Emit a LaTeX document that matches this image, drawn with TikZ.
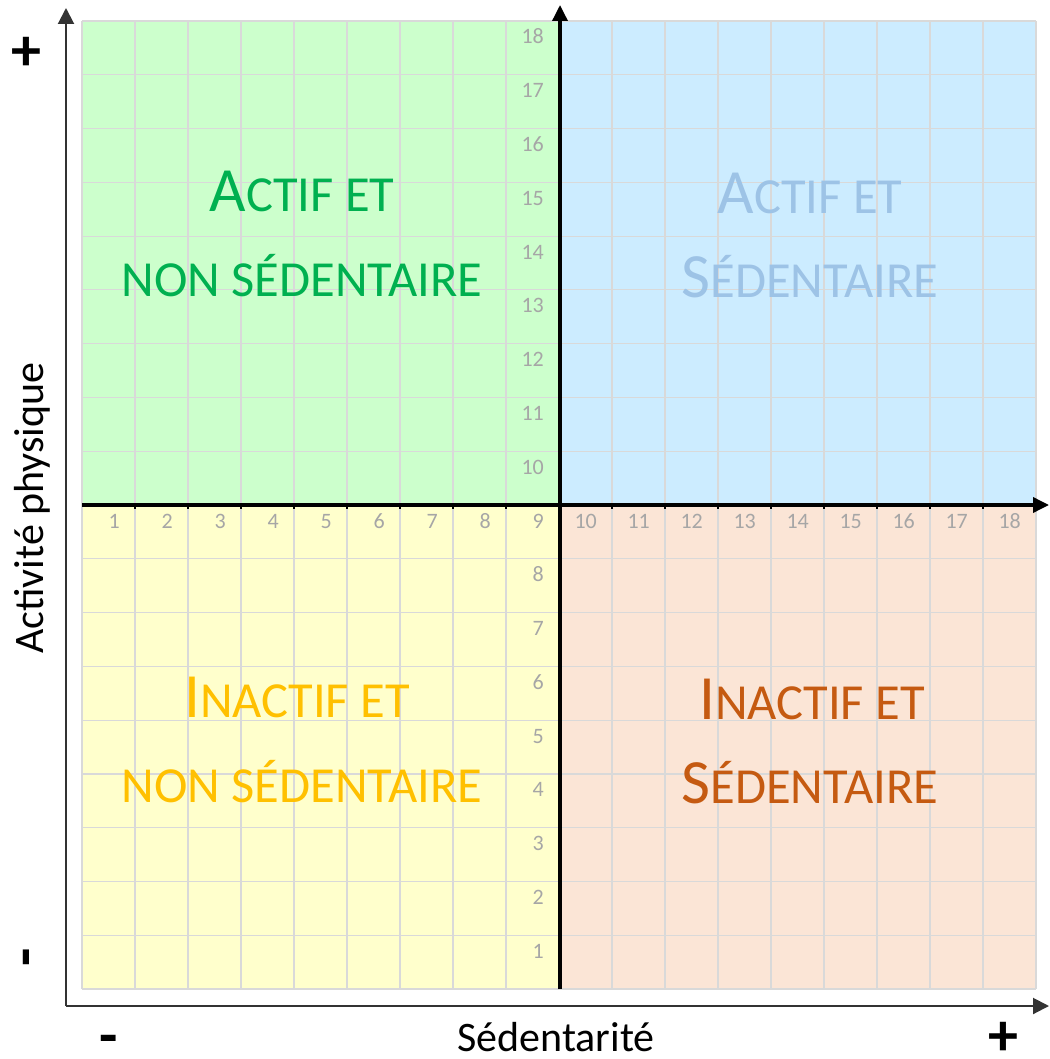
\documentclass[tikz,border=0pt]{standalone}
\usepackage{fontspec}
\setmainfont{Carlito}
\usetikzlibrary{arrows.meta}
\definecolor{qgreen}{HTML}{CCFFCC}
\definecolor{qblue}{HTML}{CCECFF}
\definecolor{qyellow}{HTML}{FFFFCC}
\definecolor{qpeach}{HTML}{FBE5D6}
\definecolor{tgreen}{HTML}{00B050}
\definecolor{tblue}{HTML}{9DC3E6}
\definecolor{tgold}{HTML}{FFC000}
\definecolor{torange}{HTML}{C55A11}
\definecolor{gridgray}{HTML}{D9D9D9}
\definecolor{numgray}{HTML}{A6A6A6}
\newcommand\quadbigsc[2]{{\fontsize{63}{70}\selectfont #1}{\fontsize{50.5}{58}\selectfont #2}}
\newcommand\quadsmallsc[1]{{\fontsize{50.5}{58}\selectfont #1}}
\tikzset{
  gridline/.style={draw=gridgray, line width=1.2pt},
  num/.style={text=numgray, font=\fontsize{22}{26}\selectfont, inner sep=0pt, anchor=base east},
  qlabel/.style={inner sep=0pt, anchor=base},
  outeraxis/.style={draw=black!80, line width=2pt, -{Triangle[length=16pt,width=16pt]}},
  centeraxis/.style={draw=black, line width=3.5pt, -{Triangle[length=16pt,width=15pt]}},
  axislabel/.style={inner sep=0pt, anchor=base, font=\fontsize{42}{50}\selectfont},
  sign/.style={inner sep=0pt, font=\fontsize{60}{70}\selectfont\bfseries},
  tick/.style={draw=black, line width=1.5pt}
}
\begin{document}
\begin{tikzpicture}[x=1pt,y=-1pt]
\useasboundingbox (0,0) rectangle (1049,1059);
% quadrants
\fill[qgreen] (82,21) rectangle (559,505);
\fill[qblue] (559,21) rectangle (1036,505);
\fill[qyellow] (82,505) rectangle (559,989);
\fill[qpeach] (559,505) rectangle (1036,989);
% grid
\foreach \i in {0,...,18} \draw[gridline] ({82+53*\i},21) -- ({82+53*\i},989);
\foreach \j in {0,...,18} \draw[gridline] (82,{21+53.778*\j}) -- (1036,{21+53.778*\j});
% numbers along the horizontal axis
\foreach \n in {1,...,18} \node[num] (h\n) at ({82+53*\n-15},528) {\n};
% numbers along the vertical axis
\foreach \n in {1,...,8,10,11,...,18} \node[num] (v\n) at (544,{21+53.778*(18-\n)+23}) {\n};
% quadrant labels
\node[qlabel, text=tgreen] (tl1) at (302,212) {\quadbigsc{A}{CTIF ET}};
\node[qlabel, text=tgreen] (tl2) at (302,296) {\quadsmallsc{NON SÉDENTAIRE}};
\node[qlabel, text=tblue] (tr1) at (810,214) {\quadbigsc{A}{CTIF ET}};
\node[qlabel, text=tblue] (tr2) at (810,297) {\quadbigsc{S}{ÉDENTAIRE}};
\node[qlabel, text=tgold] (bl1) at (297,717) {\quadbigsc{I}{NACTIF ET}};
\node[qlabel, text=tgold] (bl2) at (302,802) {\quadsmallsc{NON SÉDENTAIRE}};
\node[qlabel, text=torange] (br1) at (812,719) {\quadbigsc{I}{NACTIF ET}};
\node[qlabel, text=torange] (br2) at (810,803) {\quadbigsc{S}{ÉDENTAIRE}};
% outer axes
\coordinate (origin) at (66,1006);
\coordinate (ytop) at (66,8);
\coordinate (xright) at (1049,1006);
\draw[outeraxis] (origin) -- (ytop);
\draw[outeraxis] (origin) -- (xright);
% center axes
\coordinate (cbottom) at (560,989);
\coordinate (ctop) at (560,5);
\coordinate (cleft) at (82,505);
\coordinate (cright) at (1049,505);
\foreach \i in {1,...,17} \draw[tick] ({82+53*\i},505) -- ++(0,3.5);
\draw[centeraxis] (cbottom) -- (ctop);
\draw[centeraxis] (cleft) -- (cright);
% axis labels
\node[axislabel, rotate=90] (ylab) at (43,508) {Activité physique};
\node[axislabel] (xlab) at (556,1051) {Sédentarité};
% signs
\node[sign, anchor=center] (yplus) at (26,54) {+};
\node[sign, anchor=base, rotate=90] (yminus) at (43,957) {-};
\node[sign, anchor=base] (xminus) at (109,1055) {-};
\node[sign, anchor=center] (xplus) at (1003,1039) {+};
\end{tikzpicture}
\end{document}
